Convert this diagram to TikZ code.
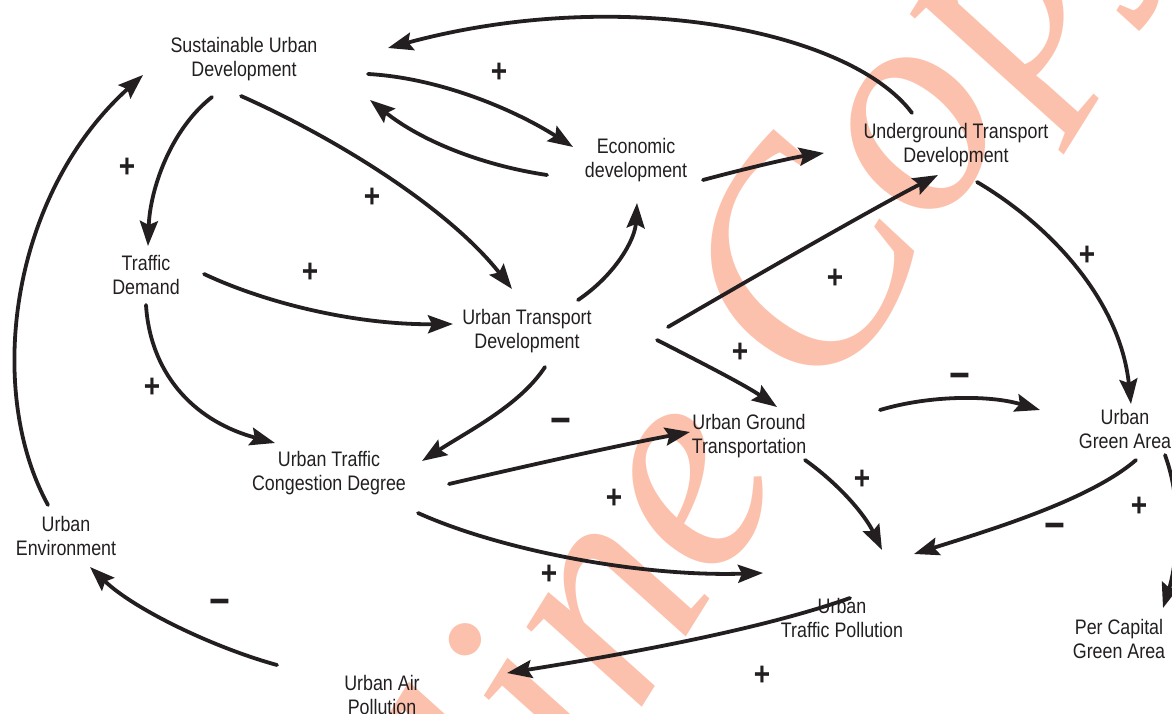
\documentclass[tikz,border=0pt]{standalone}
\usepackage{fontspec}
\setmainfont{Liberation Sans}[FakeStretch=0.85]
\newfontfamily\wmfont{Liberation Serif}
\usetikzlibrary{arrows.meta}
\definecolor{wm}{RGB}{252,193,172}
\definecolor{ink}{RGB}{35,31,32}
\begin{document}
\begin{tikzpicture}[x=1pt,y=-1pt,
  lbl/.style={align=center,font=\fontsize{21}{24.5}\selectfont,text=ink,inner sep=0pt},
  arr/.style={line width=3.8pt,draw=ink,-{Stealth[length=25pt,width=18pt,inset=4pt]},line cap=round},
  pl/.style={font=\fontsize{33}{33}\bfseries\selectfont,text=ink,inner sep=0pt},
  mi/.style={font=\fontsize{42}{42}\bfseries\selectfont,text=ink,inner sep=0pt}
]
\useasboundingbox (0,0) rectangle (1172,714);
\clip (0,0) rectangle (1172,714);
% watermark
\node[wm, font=\wmfont\itshape\fontsize{305}{305}\selectfont, rotate=58, anchor=base, inner sep=0pt] (wmk) at (776,494) {Online Copy.};
% nodes
\node[lbl] (sud) at (244,59) {Sustainable Urban\\Development};
\node[lbl] (eco) at (636,160) {Economic\\development};
\node[lbl] (und) at (956,145) {Underground Transport\\Development};
\node[lbl] (td) at (146,275) {Traffic\\Demand};
\node[lbl] (utd) at (527,331) {Urban Transport\\Development};
\node[lbl] (ugt) at (749,436) {Urban Ground\\Transportation};
\node[lbl] (uga) at (1125,429) {Urban\\Green Area};
\node[lbl] (utcd) at (329,473) {Urban Traffic\\Congestion Degree};
\node[lbl] (ue) at (66,536) {Urban\\Environment};
\node[lbl] (utp) at (842,618) {Urban\\Traffic Pollution};
\node[lbl] (pcga) at (1119,639) {Per Capital\\Green Area};
\node[lbl] (uap) at (382,695) {Urban Air\\Pollution};
% connectors
\draw[arr] ([shift={(-44,-32)}]und.center) .. controls (850,30) and (620,-15) .. ([shift={(144,-11)}]sud.center);
\draw[arr] ([shift={(124,15)}]sud.center) .. controls (440,78) and (515,110) .. ([shift={(-63,-13)}]eco.center);
\draw[arr] ([shift={(-89,15)}]eco.center) .. controls (480,165) and (420,140) .. ([shift={(126,41)}]sud.center);
\draw[arr] ([shift={(-32,38)}]sud.center) .. controls (170,130) and (150,190) .. ([shift={(2,-29)}]td.center);
\draw[arr] ([shift={(-3,37)}]sud.center) .. controls (340,140) and (450,210) .. ([shift={(-15,-42)}]utd.center);
\draw[arr] ([shift={(58,-1)}]td.center) .. controls (270,305) and (360,325) .. ([shift={(-74,-7)}]utd.center);
\draw[arr] ([shift={(0,30)}]td.center) .. controls (150,370) and (190,420) .. ([shift={(-54,-30)}]utcd.center);
\draw[arr] ([shift={(51,-31)}]utd.center) .. controls (615,275) and (635,240) .. ([shift={(1,43)}]eco.center);
\draw[arr] ([shift={(67,20)}]eco.center) .. controls (740,170) and (790,158) .. ([shift={(-132,8)}]und.center);
\draw[arr] ([shift={(141,-4)}]utd.center) .. controls (740,285) and (870,210) .. ([shift={(-18,30)}]und.center);
\draw[arr] ([shift={(130,9)}]utd.center) .. controls (700,362) and (745,385) .. ([shift={(28,-29)}]ugt.center);
\draw[arr] ([shift={(18,36)}]utd.center) .. controls (520,405) and (470,430) .. ([shift={(93,-12)}]utcd.center);
\draw[arr] ([shift={(120,11)}]utcd.center) .. controls (530,465) and (620,445) .. ([shift={(-59,-4)}]ugt.center);
\draw[arr] ([shift={(89,40)}]utcd.center) .. controls (500,550) and (640,577) .. ([shift={(-79,-45)}]utp.center);
\draw[arr] ([shift={(21,37)}]und.center) .. controls (1050,225) and (1120,300) .. ([shift={(6,-25)}]uga.center);
\draw[arr] ([shift={(131,-26)}]ugt.center) .. controls (930,395) and (990,395) .. ([shift={(-85,-19)}]uga.center);
\draw[arr] ([shift={(56,24)}]ugt.center) .. controls (840,485) and (865,515) .. ([shift={(40,-68)}]utp.center);
\draw[arr] ([shift={(11,31)}]uga.center) .. controls (1090,500) and (990,530) .. ([shift={(72,-64)}]utp.center);
\draw[arr] ([shift={(40,26)}]uga.center) .. controls (1185,510) and (1175,570) .. ([shift={(44,-31)}]pcga.center);
\draw[arr] ([shift={(8,-20)}]utp.center) .. controls (760,630) and (620,655) .. ([shift={(125,-22)}]uap.center);
\draw[arr] ([shift={(-105,-30)}]uap.center) .. controls (215,648) and (135,610) .. ([shift={(24,31)}]ue.center);
\draw[arr] ([shift={(-18,-31)}]ue.center) .. controls (-15,390) and (10,195) .. ([shift={(-101,16)}]sud.center);
% polarity labels
\node[pl] (p1) at (499,73) {+};
\node[pl] (p2) at (127,168) {+};
\node[pl] (p3) at (372,198) {+};
\node[pl] (p4) at (310,273) {+};
\node[pl] (p5) at (152,388) {+};
\node[pl] (p6) at (835,279) {+};
\node[pl] (p7) at (740,353) {+};
\node[pl] (p8) at (1087,256) {+};
\node[pl] (p9) at (614,499) {+};
\node[pl] (p10) at (549,575) {+};
\node[pl] (p11) at (862,480) {+};
\node[pl] (p12) at (1139,507) {+};
\node[pl] (p13) at (762,676) {+};
\node[mi] (m1) at (561,426) {−};
\node[mi] (m2) at (960,381) {−};
\node[mi] (m3) at (1055,531) {−};
\node[mi] (m4) at (220,607) {−};
\end{tikzpicture}
\end{document}
